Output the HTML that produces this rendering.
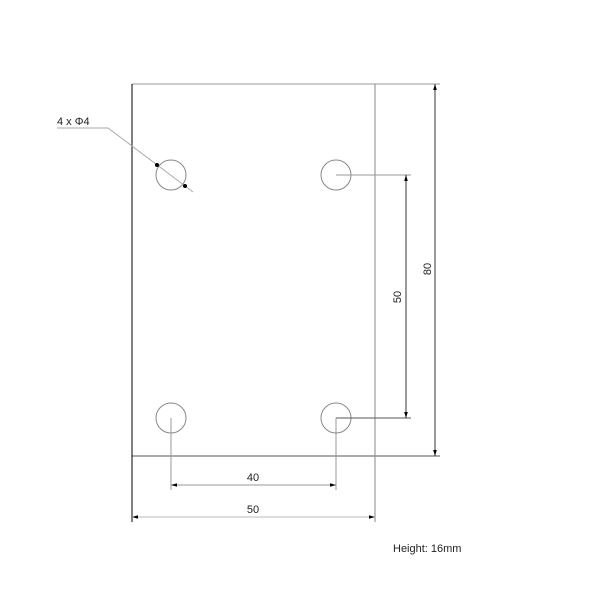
<!DOCTYPE html>
<html><head><style>body{margin:0;background:#fff}svg{display:block}text{font-family:"Liberation Sans",sans-serif;font-size:11px;fill:#222}</style></head>
<body>
<svg width="600" height="600" viewBox="0 0 600 600" xmlns="http://www.w3.org/2000/svg">
<defs>
<marker id="a" viewBox="0 0 10 10" refX="10" refY="5" markerWidth="6" markerHeight="6" orient="auto-start-reverse"><path d="M0,2 L10,5 L0,8z" fill="#000"/></marker>
</defs>
<g fill="none" stroke-width="1">
<line x1="132" y1="84" x2="440" y2="84" stroke="#999"/>
<line x1="132" y1="456" x2="440" y2="456" stroke="#555"/>
<line x1="132" y1="84" x2="132" y2="522" stroke="#000"/>
<line x1="375" y1="84" x2="375" y2="522" stroke="#888"/>
<circle cx="171" cy="175" r="15" stroke="#888"/>
<circle cx="336" cy="175" r="15" stroke="#888"/>
<circle cx="171" cy="418" r="15" stroke="#888"/>
<circle cx="336" cy="418" r="15" stroke="#888"/>
<line x1="336" y1="175" x2="411" y2="175" stroke="#999"/>
<line x1="336" y1="418" x2="411" y2="418" stroke="#555"/>
<line x1="171" y1="418" x2="171" y2="490" stroke="#999"/>
<line x1="336" y1="418" x2="336" y2="490" stroke="#999"/>
<line x1="435" y1="84" x2="435" y2="456" stroke="#333" marker-start="url(#a)" marker-end="url(#a)"/>
<line x1="406" y1="175" x2="406" y2="418" stroke="#333" marker-start="url(#a)" marker-end="url(#a)"/>
<line x1="171" y1="485" x2="336" y2="485" stroke="#999" marker-start="url(#a)" marker-end="url(#a)"/>
<line x1="132" y1="517" x2="375" y2="517" stroke="#bbb" marker-start="url(#a)" marker-end="url(#a)"/>
<polyline points="57,128 108,128 193,192" stroke="#aaa"/>
<circle cx="157" cy="165" r="2" fill="#000" stroke="none"/>
<circle cx="185" cy="186" r="2" fill="#000" stroke="none"/>
</g>
<text x="57" y="125">4 x Φ4</text>
<text x="253" y="481" text-anchor="middle">40</text>
<text x="253" y="513" text-anchor="middle">50</text>
<text transform="translate(401,297) rotate(-90)" text-anchor="middle">50</text>
<text transform="translate(431,269) rotate(-90)" text-anchor="middle">80</text>
<text x="393" y="552">Height: 16mm</text>
</svg>
</body></html>
